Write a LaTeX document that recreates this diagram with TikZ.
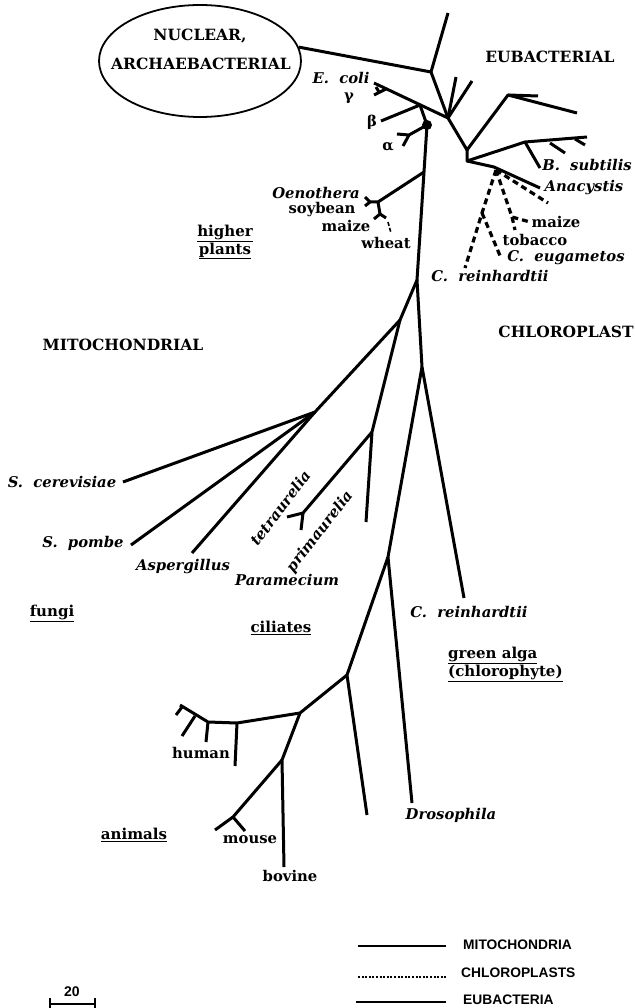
\documentclass[tikz,border=0pt]{standalone}
\usepackage{fontspec}
\newfontfamily\dvs{DejaVu Serif}
\newfontfamily\lsans{Liberation Sans}
\usetikzlibrary{shapes.geometric}
\begin{document}
\begin{tikzpicture}[x=1pt,y=-1pt,
  br/.style={line width=3pt,line join=round},
  chl/.style={line width=3.2pt,dash pattern=on 6pt off 4pt},
  bigl/.style={font=\dvs\bfseries\fontsize{15.5}{17}\selectfont,inner sep=0pt},
  spn/.style={font=\dvs\bfseries\itshape\fontsize{14.8}{16}\selectfont,inner sep=0pt},
  pln/.style={font=\dvs\bfseries\fontsize{14.8}{16}\selectfont,inner sep=0pt},
  grp/.style={font=\dvs\bfseries\fontsize{15}{15}\selectfont,inner sep=0pt,align=center},
  legt/.style={font=\lsans\bfseries\fontsize{13.8}{15}\selectfont,inner sep=0pt,anchor=west}]
\useasboundingbox (0,0) rectangle (634,1008);

% ---------- ellipse ----------
\node[ellipse,draw,line width=1.8pt,minimum width=202pt,minimum height=112pt] (ell) at (200,61) {};
\node[bigl] (nuc) at (200,36) {NUCLEAR,};
\node[bigl] (arc) at (201,64) {ARCHAEBACTERIAL};

% ---------- coordinates (upper) ----------
\coordinate (n0) at (431,72);
\coordinate (t0) at (448,13);
\coordinate (nA) at (448,118);
\coordinate (tA1) at (456,77);
\coordinate (tA2) at (472,81);
\coordinate (tEc) at (374,83);
\coordinate (nG) at (386,89);
\coordinate (gT) at (374,95);
\coordinate (gM) at (379,92);
\coordinate (gT2) at (376,87);
\coordinate (nB) at (420,105);
\coordinate (tB) at (381,121);
\coordinate (dot) at (427,125);
\coordinate (nAl) at (409,135);
\coordinate (tAl1) at (397,134);
\coordinate (tAl2) at (403,146);
\coordinate (nT1) at (424,172);
\coordinate (nT) at (417,280);
\coordinate (nP) at (378,202);
\coordinate (nOe) at (370,202);
\coordinate (tOe1) at (365,197);
\coordinate (tOe2) at (365,206);
\coordinate (nPd) at (380,214);
\coordinate (tPd1) at (374,219);
\coordinate (tPd2) at (386,218);
\coordinate (wh1) at (388,222);
\coordinate (wh2) at (391,233);
\coordinate (nE1) at (467,150);
\coordinate (nE2) at (508,95);
\coordinate (tE2a) at (538,96);
\coordinate (tE2b) at (577,113);
\coordinate (nE3) at (467,161);
\coordinate (nE4) at (525,142);
\coordinate (tE4) at (587,137);
\coordinate (bE4) at (550,143);
\coordinate (tE4b) at (565,153);
\coordinate (fE4) at (575,139);
\coordinate (tE4c) at (585,145);
\coordinate (tBs) at (540,168);
\coordinate (nC) at (494,167);
\coordinate (tAna) at (540,188);
\coordinate (cp0) at (496,170);
\coordinate (cpA) at (548,203);
\coordinate (nMz) at (512,217);
\coordinate (tMz) at (530,222);
\coordinate (tTob) at (515,230);
\coordinate (nCr) at (482,213);
\coordinate (tCr) at (465,268);
\coordinate (tCe) at (501,258);

% ---------- coordinates (lower) ----------
\coordinate (nL) at (400,320);
\coordinate (nR) at (422,367);
\coordinate (nF) at (315,412);
\coordinate (tSc) at (123,482);
\coordinate (tSp) at (131,545);
\coordinate (tAsp) at (192,553);
\coordinate (nCi) at (372,432);
\coordinate (tCi) at (366,522);
\coordinate (nPa) at (303,513);
\coordinate (tPa1) at (287,517);
\coordinate (tPa2) at (301,530);
\coordinate (tCrm) at (464,598);
\coordinate (nAn) at (388,557);
\coordinate (tDro) at (412,803);
\coordinate (nAn2) at (347,675);
\coordinate (tAn2) at (367,815);
\coordinate (nH0) at (300,713);
\coordinate (nH1) at (237,723);
\coordinate (nH2) at (208,722);
\coordinate (nH3) at (180,705);
\coordinate (tH1) at (235,766);
\coordinate (tH2) at (206,742);
\coordinate (hM3) at (195,716);
\coordinate (tH3) at (182,736);
\coordinate (hM4) at (182,707);
\coordinate (tH4) at (176,715);
\coordinate (nM) at (282,760);
\coordinate (tBov) at (284,867);
\coordinate (nMo) at (233,817);
\coordinate (tMo1) at (215,830);
\coordinate (tMo2) at (245,831);

% ---------- eubacterial tree ----------
\draw[br] (ell.8) -- (n0) -- (t0);
\draw[br] (n0) -- (nA);
\draw[br] (nA) -- (tA1);
\draw[br] (nA) -- (tA2);
\draw[br] (nA) -- (tEc);
\draw[br] (nG) -- (gT);
\draw[br] (gM) -- (gT2);
\draw[br] (nB) -- (tB);
\draw[br] (nB) -- (dot);
\draw[br] (nA) -- (nE1) -- (nE2) -- (tE2a);
\draw[br] (nE2) -- (tE2b);
\draw[br] (nE1) -- (nE3) -- (nE4) -- (tE4);
\draw[br] (bE4) -- (tE4b);
\draw[br] (fE4) -- (tE4c);
\draw[br] (nE4) -- (tBs);
\draw[br] (nE3) -- (nC) -- (tAna);

% ---------- chloroplast (dashed) ----------
\draw[chl] (cp0) -- (cpA);
\draw[chl] (cp0) -- (nMz) -- (tMz);
\draw[chl] (nMz) -- (tTob);
\draw[chl] (cp0) -- (nCr) -- (tCr);
\draw[chl] (nCr) -- (tCe);
\draw[line width=1.6pt,dash pattern=on 4pt off 2pt] (wh1) -- (wh2);

% ---------- mitochondrial tree ----------
\fill (dot) circle (5pt);
\draw[br] (dot) -- (nAl) -- (tAl1);
\draw[br] (nAl) -- (tAl2);
\draw[br] (dot) -- (nT1) -- (nT);
\draw[br] (nT1) -- (nP) -- (nOe) -- (tOe1);
\draw[br] (nOe) -- (tOe2);
\draw[br] (nP) -- (nPd) -- (tPd1);
\draw[br] (nPd) -- (tPd2);
\draw[br] (nT) -- (nL) -- (nF) -- (tSc);
\draw[br] (nF) -- (tSp);
\draw[br] (nF) -- (tAsp);
\draw[br] (nL) -- (nCi) -- (tCi);
\draw[br] (nCi) -- (nPa) -- (tPa1);
\draw[br] (nPa) -- (tPa2);
\draw[br] (nT) -- (nR) -- (tCrm);
\draw[br] (nR) -- (nAn) -- (tDro);
\draw[br] (nAn) -- (nAn2) -- (tAn2);
\draw[br] (nAn2) -- (nH0) -- (nH1) -- (nH2) -- (nH3);
\draw[br] (nH1) -- (tH1);
\draw[br] (nH2) -- (tH2);
\draw[br] (hM3) -- (tH3);
\draw[br] (hM4) -- (tH4);
\draw[br] (nH0) -- (nM) -- (tBov);
\draw[br] (nM) -- (nMo) -- (tMo1);
\draw[br] (nMo) -- (tMo2);

% ---------- labels ----------
\node[bigl] (euB) at (550,57) {EUBACTERIAL};
\node[spn] (ecoli) at (341,78) {E.\ \ coli};
\node[pln] (gam) at (349,98) {γ};
\node[pln] (bet) at (372,122) {β};
\node[pln] (alp) at (388,147) {α};
\node[spn] (oen) at (316,193) {Oenothera};
\node[pln] (soy) at (322,210) {soybean};
\node[pln] (maz) at (346,226) {maize};
\node[pln] (whe) at (386,243) {wheat};
\node[grp] (hp) at (225,242) {\underline{higher}\\\underline{plants}};
\node[spn] (bsub) at (587,165) {B.\ \ subtilis};
\node[spn] (ana) at (584,188) {Anacystis};
\node[pln] (cmaz) at (556,222) {maize};
\node[pln] (tob) at (535,240) {tobacco};
\node[spn] (ceu) at (566,258) {C.\ \ eugametos};
\node[spn] (crc) at (490,276) {C.\ \ reinhardtii};
\node[bigl] (chlt) at (566,332) {CHLOROPLAST};
\node[bigl] (mit) at (123,345) {MITOCHONDRIAL};
\node[spn] (scer) at (62,482) {S.\ \ cerevisiae};
\node[spn] (spom) at (83,543) {S.\ \ pombe};
\node[spn] (asp) at (183,567) {Aspergillus};
\node[spn] (par) at (287,580) {Paramecium};
\node[spn,rotate=53] (tet) at (280,508) {tetraurelia};
\node[spn,rotate=52] (pri) at (320,532) {primaurelia};
\node[grp] (fun) at (52,613) {\underline{fungi}};
\node[grp] (cil) at (281,628) {\underline{ciliates}};
\node[spn] (crm) at (469,612) {C.\ \ reinhardtii};
\node[grp,align=left,anchor=north west] (gre) at (448,647) {\underline{green alga}\\\underline{(chlorophyte)}};
\node[pln] (hum) at (201,753) {human};
\node[pln] (mou) at (250,840) {mouse};
\node[pln] (bov) at (290,876) {bovine};
\node[spn] (dro) at (451,815) {Drosophila};
\node[grp] (ani) at (134,835) {\underline{animals}};

% ---------- legend ----------
\coordinate (lg1a) at (358,946);
\coordinate (lg1b) at (446,946);
\coordinate (lg2a) at (358,977);
\coordinate (lg2b) at (446,977);
\coordinate (lg3a) at (356,1002);
\coordinate (lg3b) at (446,1002);
\draw[line width=2.8pt] (lg1a) -- (lg1b);
\draw[line width=2.2pt,dash pattern=on 2pt off 1.6pt] (lg2a) -- (lg2b);
\draw[line width=1.5pt] (lg3a) -- (lg3b);
\node[legt] (lgm) at (463,945) {MITOCHONDRIA};
\node[legt] (lgc) at (461,973) {CHLOROPLASTS};
\node[legt] (lge) at (463,1000) {EUBACTERIA};

% ---------- scale bar ----------
\coordinate (sb1) at (50,1004);
\coordinate (sb2) at (95,1004);
\coordinate (sb1t) at (50,998);
\coordinate (sb1b) at (50,1008);
\coordinate (sb2t) at (95,998);
\coordinate (sb2b) at (95,1008);
\draw[line width=1.6pt] (sb1) -- (sb2);
\draw[line width=1.6pt] (sb1t) -- (sb1b);
\draw[line width=1.6pt] (sb2t) -- (sb2b);
\node[font=\lsans\bfseries\fontsize{14}{15}\selectfont,inner sep=0pt] (sbl) at (72,992) {20};
\end{tikzpicture}
\end{document}
